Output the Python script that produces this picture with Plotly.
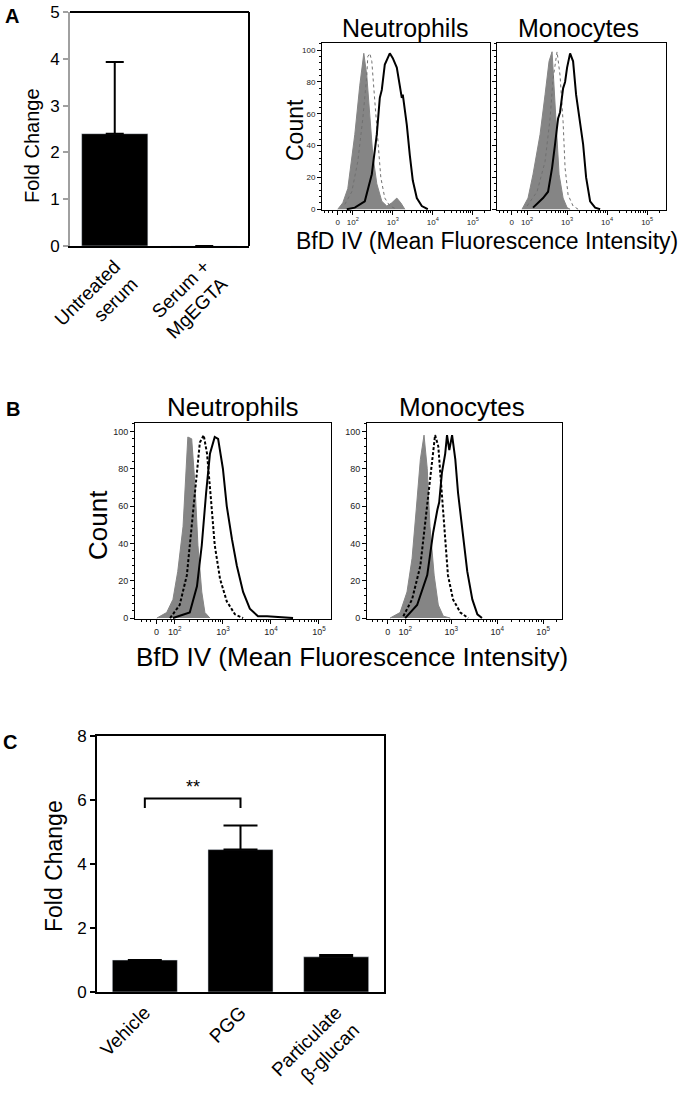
import plotly.graph_objs as go
import numpy as np

W, H = 686, 1095

# ---- panel A bars ----
a_groups = ["Untreated<br>serum", "Serum +<br>MgEGTA"]
a_fold = [2.4, 0.0]
a_err = [1.53, None]

# ---- panel C bars ----
c_groups = ["Vehicle", "PGG", "Particulate<br>β-glucan"]
c_fold = [1.0, 4.45, 1.1]
c_err = [None, 0.75, 0.06]
sig_pair = ["Vehicle", "PGG"]
sig_y = 6.05
sig_leg = 5.75
sig_text = "**"

# ---- histograms, x in display decades (2 = 10^2, 3 = 10^3 ...) ----
tick_u = [1.62, 2, 3, 4, 5]
tick_txt = ["0", "10<sup>2</sup>", "10<sup>3</sup>", "10<sup>4</sup>", "10<sup>5</sup>"]
count_ticks = [0, 20, 40, 60, 80, 100]

# A neutrophils
an_gray_x = [1.625, 1.75, 1.875, 2.05, 2.175, 2.275, 2.35, 2.425, 2.5, 2.6, 2.725, 2.85, 2.975, 3.1, 3.2, 3.3]
an_gray_y = [0, 4, 13, 47, 78, 98, 84, 57, 34, 16, 5, 2, 4, 7, 4, 0]
an_dot_x = [1.8, 1.975, 2.125, 2.25, 2.35, 2.375, 2.425, 2.475, 2.55, 2.625, 2.7, 2.8, 2.925, 3.1]
an_dot_y = [3, 11, 30, 57, 84, 96, 98, 93, 68, 41, 20, 7, 2, 0]
an_sol_x = [1.85, 2.05, 2.3, 2.475, 2.6, 2.675, 2.725, 2.8, 2.925, 3.0, 3.1, 3.175, 3.225, 3.25,
            3.35, 3.425, 3.5, 3.6, 3.725, 3.875]
an_sol_y = [0, 1, 5, 22, 47, 70, 75, 91, 98, 95, 89, 78, 70, 72, 53, 34, 18, 7, 2, 0]

# A monocytes
am_gray_x = [1.875, 2.025, 2.15, 2.325, 2.45, 2.55, 2.625, 2.675, 2.75, 2.8, 2.9, 3.0, 3.075]
am_gray_y = [0, 7, 22, 47, 72, 93, 99, 78, 47, 22, 7, 1, 0]
am_dot_x = [2.0, 2.25, 2.45, 2.575, 2.65, 2.75, 2.825, 2.9, 2.95, 3.025, 3.15, 3.275]
am_dot_y = [2, 11, 30, 57, 82, 99, 84, 55, 26, 9, 2, 0]
am_sol_x = [2.15, 2.4, 2.525, 2.625, 2.7, 2.775, 2.825, 2.9, 2.95, 3.0, 3.075, 3.15, 3.225,
            3.3, 3.4, 3.475, 3.575, 3.7, 3.825]
am_sol_y = [1, 7, 11, 26, 41, 57, 61, 76, 80, 89, 98, 93, 72, 59, 41, 20, 5, 1, 0]

# B neutrophils
bn_gray_x = [1.625, 1.83, 1.96, 2.06, 2.17, 2.23, 2.27, 2.35, 2.42, 2.48, 2.56, 2.625, 2.73]
bn_gray_y = [0, 3, 10, 25, 49, 76, 97, 96, 71, 39, 14, 3, 0]
bn_dot_x = [1.9, 2.1, 2.25, 2.35, 2.44, 2.52, 2.6, 2.67, 2.75, 2.83, 2.94, 3.08, 3.25, 3.42]
bn_dot_y = [0, 7, 23, 49, 76, 94, 98, 88, 64, 39, 21, 9, 2, 0]
bn_sol_x = [1.96, 2.31, 2.46, 2.56, 2.65, 2.73, 2.83, 2.9, 3.0, 3.08, 3.19, 3.29, 3.42, 3.56,
            3.73, 3.92, 4.46]
bn_sol_y = [0, 3, 17, 39, 67, 88, 97, 96, 80, 60, 42, 28, 14, 5, 1, 1, 0]

# B monocytes
bm_gray_x = [1.67, 1.89, 2.04, 2.15, 2.24, 2.33, 2.41, 2.48, 2.54, 2.63, 2.72, 2.83, 2.98]
bm_gray_y = [0, 3, 14, 32, 58, 85, 98, 80, 49, 23, 7, 1, 0]
bm_dot_x = [1.96, 2.15, 2.33, 2.43, 2.5, 2.59, 2.65, 2.72, 2.8, 2.87, 2.93, 3.04, 3.2, 3.37]
bm_dot_y = [1, 10, 28, 49, 67, 85, 98, 92, 67, 40, 23, 10, 3, 0]
bm_sol_x = [2.0, 2.26, 2.48, 2.61, 2.7, 2.74, 2.8, 2.87, 2.91, 2.96, 3.02, 3.09, 3.15, 3.26,
            3.35, 3.46, 3.57, 3.67]
bm_sol_y = [0, 7, 23, 46, 58, 62, 78, 88, 98, 90, 98, 85, 67, 44, 25, 10, 2, 0]


# page pixel -> paper fraction
def px_x(a, b):
    return [a / W, b / W]


def px_y(top, bottom):
    return [1 - bottom / H, 1 - top / H]


FONT = "Liberation Sans, Arial, sans-serif"
GRAY = "#858585"

fig = go.Figure()

# A bars
fig.add_trace(go.Bar(x=a_groups, y=a_fold, width=0.74, marker_color="black",
                     error_y=dict(type="data", symmetric=False, array=a_err, arrayminus=[0, 0],
                                  color="black", thickness=2, width=9),
                     xaxis="x", yaxis="y"))

# histograms
hist_sets = [
    ("x2", "y2", an_gray_x, an_gray_y, an_dot_x, an_dot_y, an_sol_x, an_sol_y, "#707070", 1),
    ("x3", "y3", am_gray_x, am_gray_y, am_dot_x, am_dot_y, am_sol_x, am_sol_y, "#707070", 1),
    ("x4", "y4", bn_gray_x, bn_gray_y, bn_dot_x, bn_dot_y, bn_sol_x, bn_sol_y, "black", 2),
    ("x5", "y5", bm_gray_x, bm_gray_y, bm_dot_x, bm_dot_y, bm_sol_x, bm_sol_y, "black", 2),
]
for xa, ya, gx, gy, dx, dy, sx, sy, dcol, dw in hist_sets:
    fig.add_trace(go.Scatter(x=gx, y=gy, mode="lines", fill="tozeroy", fillcolor=GRAY,
                             line=dict(color=GRAY, width=1), xaxis=xa, yaxis=ya))
    fig.add_trace(go.Scatter(x=dx, y=dy, mode="lines",
                             line=dict(color=dcol, width=dw, dash="3px,2px" if dw == 2 else "dot"),
                             xaxis=xa, yaxis=ya))
    fig.add_trace(go.Scatter(x=sx, y=sy, mode="lines", line=dict(color="black", width=2),
                             xaxis=xa, yaxis=ya))

# C bars
fig.add_trace(go.Bar(x=c_groups, y=c_fold, width=0.68, marker_color="black",
                     error_y=dict(type="data", symmetric=False, array=c_err, arrayminus=[0, 0, 0],
                                  color="black", thickness=2, width=17),
                     xaxis="x6", yaxis="y6"))
fig.add_trace(go.Scatter(x=[sig_pair[0], sig_pair[0], sig_pair[1], sig_pair[1]],
                         y=[sig_leg, sig_y, sig_y, sig_leg], mode="lines",
                         line=dict(color="black", width=2), xaxis="x6", yaxis="y6"))

# minor ticks for the biexponential-looking axis
minor_u = [1.3, 1.4, 1.5, 1.75, 1.85, 1.93]
for d in [2, 3, 4, 5]:
    for k in range(2, 10):
        minor_u.append(d + np.log10(k))


def hist_x(dom, rng, fs):
    return dict(domain=dom, range=rng, tickmode="array", tickvals=tick_u, ticktext=tick_txt,
                ticks="outside", ticklen=4, tickwidth=1, tickcolor="black",
                showline=True, mirror=True, linecolor="black", linewidth=1, automargin=False,
                showgrid=False, zeroline=False, tickfont=dict(size=fs, color="#222"),
                minor=dict(tickmode="array", tickvals=minor_u, ticks="outside", ticklen=2,
                           tickcolor="black", tickwidth=1))


def hist_y(dom, fs, labels=True):
    return dict(domain=dom, range=[-0.5, 104.5], tickvals=count_ticks, ticks="outside",
                ticklen=4, tickwidth=1, tickcolor="black", showticklabels=labels,
                showline=True, mirror=True, linecolor="black", linewidth=1, automargin=False,
                showgrid=False, zeroline=False, tickfont=dict(size=fs, color="#222"),
                minor=dict(dtick=4, ticks="outside", ticklen=2, tickcolor="black"))


fig.update_layout(
    width=W, height=H, margin=dict(l=0, r=0, t=0, b=0, autoexpand=False),
    paper_bgcolor="white", plot_bgcolor="white", showlegend=False,
    font=dict(family=FONT, color="black"),
    xaxis=dict(domain=px_x(70, 249), range=[-0.5, 1.5], tickangle=-45, ticks="",
               showline=True, linecolor="black", linewidth=2, tickfont=dict(size=19),
               showgrid=False, zeroline=False, anchor="y", automargin=False),
    yaxis=dict(domain=px_y(12, 246), range=[0, 5], dtick=1, ticks="outside", ticklen=5,
               tickcolor="#a0a0a0", tickwidth=2, showline=True, linecolor="#a0a0a0", linewidth=2,
               tickfont=dict(size=17), showgrid=False, zeroline=False, anchor="x",
               automargin=False, ticklabeloverflow="allow"),
    xaxis2=dict(hist_x(px_x(322, 490), [1.23, 5.43], 8), anchor="y2"),
    yaxis2=dict(hist_y(px_y(43, 210), 8), anchor="x2"),
    xaxis3=dict(hist_x(px_x(497, 666), [1.25, 5.47], 8), anchor="y3"),
    yaxis3=dict(hist_y(px_y(43, 210), 8, labels=False), anchor="x3"),
    xaxis4=dict(hist_x(px_x(135, 331), [1.17, 5.25], 9), anchor="y4"),
    yaxis4=dict(hist_y(px_y(423, 619), 9), anchor="x4"),
    xaxis5=dict(hist_x(px_x(367, 562), [1.17, 5.41], 9), anchor="y5"),
    yaxis5=dict(hist_y(px_y(423, 619), 9), anchor="x5"),
    xaxis6=dict(domain=px_x(97, 384), range=[-0.5, 2.5], tickangle=-45, ticks="",
                showline=True, mirror=True, linecolor="black", linewidth=2, automargin=False,
                tickfont=dict(size=19), showgrid=False, zeroline=False, anchor="y6"),
    yaxis6=dict(domain=px_y(736, 992), range=[0, 8], dtick=2, ticks="outside", ticklen=5,
                tickcolor="black", tickwidth=2, showline=True, mirror=True, linecolor="black",
                linewidth=2, tickfont=dict(size=17), showgrid=False, zeroline=False, anchor="x6",
                automargin=False),
)

# black top/right border on panel A bars (left axis stays gray)
fig.add_shape(type="line", xref="x domain", yref="y domain", x0=0, x1=1, y0=1, y1=1,
              line=dict(color="black", width=2))
fig.add_shape(type="line", xref="x domain", yref="y domain", x0=1, x1=1, y0=0, y1=1,
              line=dict(color="black", width=2))


def note(text, x, y, size, angle=0, bold=False):
    fig.add_annotation(text="<b>%s</b>" % text if bold else text, x=x / W, y=1 - y / H,
                       xref="paper", yref="paper", showarrow=False, textangle=angle,
                       xanchor="center", yanchor="middle", font=dict(size=size, family=FONT))


note("A", 12, 16, 20, bold=True)
note("B", 13, 409, 20, bold=True)
note("C", 10, 742, 20, bold=True)
note("Fold Change", 32, 146, 20, angle=-90)
note("Fold Change", 54, 866, 23, angle=-90)
note("Neutrophils", 405, 28, 25)
note("Monocytes", 578, 28, 25)
note("Count", 295, 130, 23, angle=-90)
note("BfD IV (Mean Fluorescence Intensity)", 487, 241, 23)
note("Neutrophils", 233, 407, 26)
note("Monocytes", 462, 407, 26)
note("Count", 98, 525, 26, angle=-90)
note("BfD IV (Mean Fluorescence Intensity)", 352, 657, 26)

fig.add_annotation(text=sig_text, x=0.5, y=sig_y + 0.35, xref="x6", yref="y6",
                   showarrow=False, font=dict(size=18, family=FONT))

# drop the browser's default body margin so the figure sits at the window corner
fig.write_html("out.html", config={"displayModeBar": False},
               post_script="document.body.style.margin = '0';")
